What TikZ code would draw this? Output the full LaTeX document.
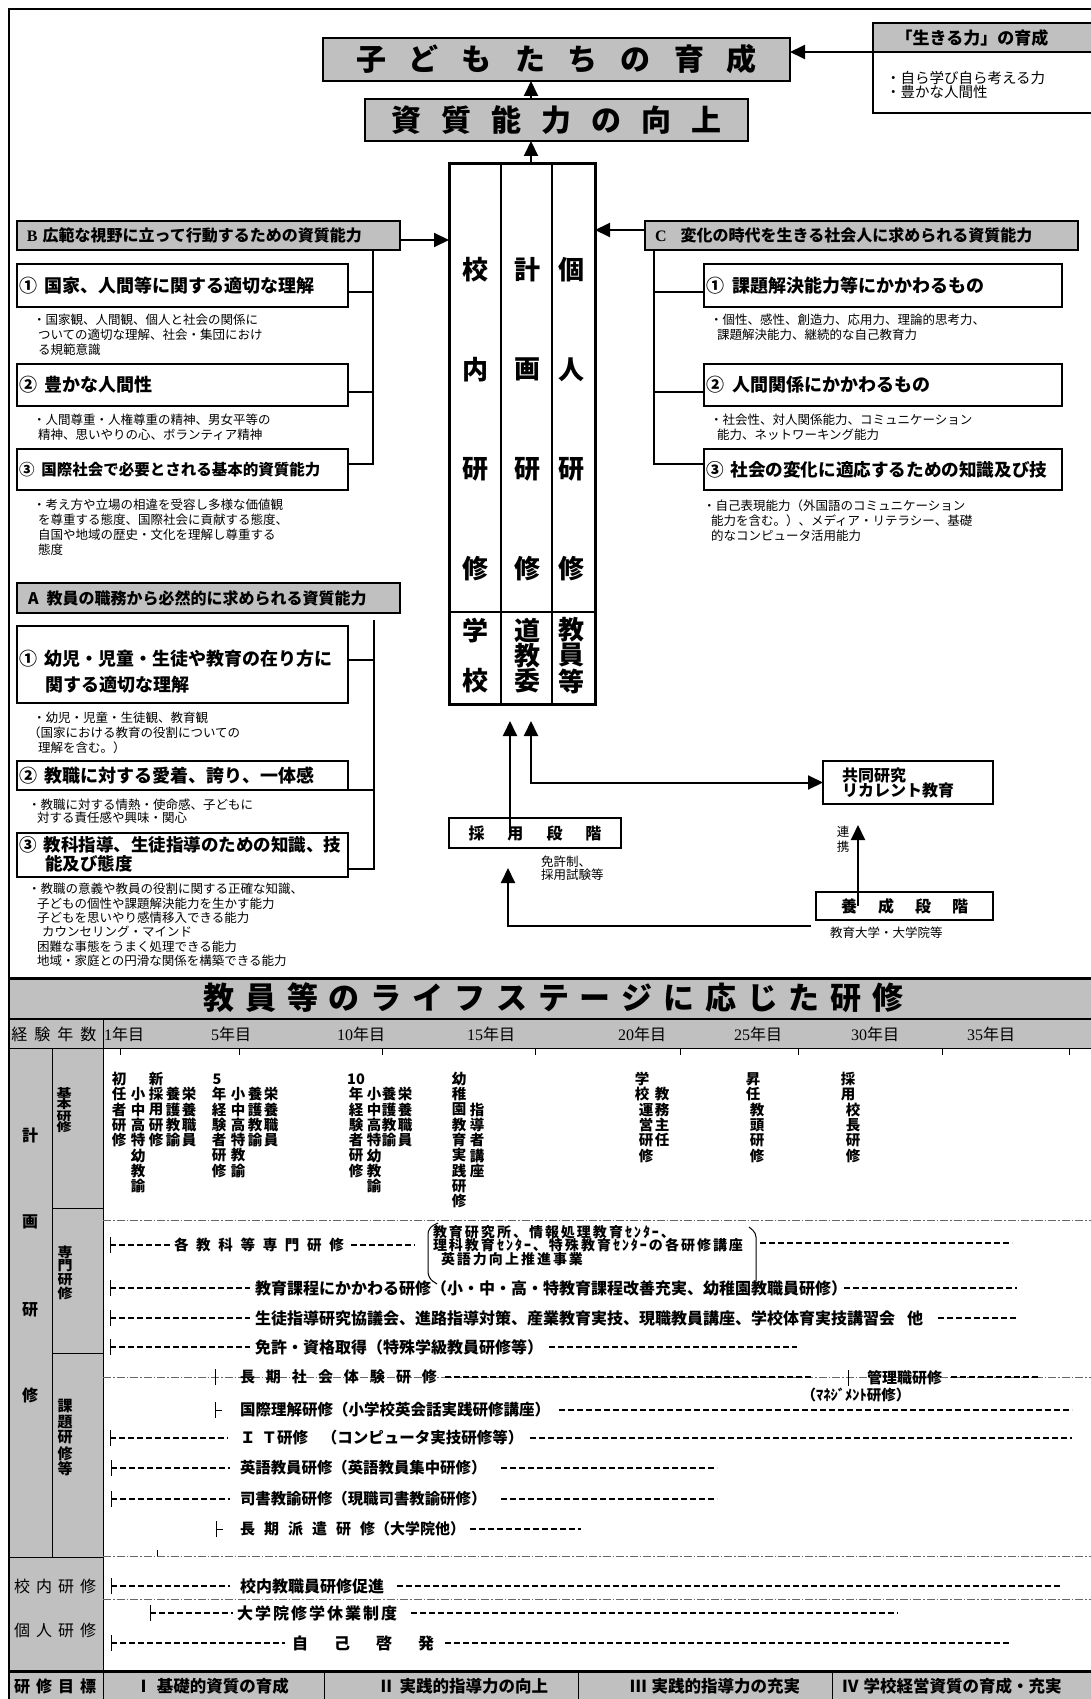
\documentclass[tikz,border=0pt]{standalone}
\usepackage{fontspec}
\setmainfont{Noto Sans CJK JP}
\newfontfamily\tms{Liberation Serif}
\usetikzlibrary{arrows.meta}
\definecolor{hg}{RGB}{192,192,192}
\newcommand\fsz[1]{\fontsize{#1}{#1}\selectfont}
\newcommand\fsb[2]{\fontsize{#1}{#2}\selectfont\lineskiplimit=-\maxdimen\relax}
\newcommand\vwrap[1]{#1}
\makeatletter
\newcommand\spread[2]{\let\sp@sep\relax\@tfor\sp@c:=#2\do{\sp@sep\sp@c\def\sp@sep{\kern#1\relax}}}
\newcounter{vcn}
\newcommand\vstack[5][vt]{\def\vc@y{#3}\@tfor\vc@c:=#5\do{\stepcounter{vcn}\node[#1] (vc\arabic{vcn}) at (#2,\vc@y) {\vwrap{\vc@c}};\pgfmathsetmacro\vc@y{\vc@y+#4}}}
\makeatother
\newcommand\tickv[2]{\draw[tk] (#1,#2-8) -- (#1,#2+8);}
\begin{document}
\begin{tikzpicture}[x=1pt,y=-1pt,
  hdr/.style={draw,line width=1.8pt,fill=hg,inner sep=0,outer sep=0},
  wbox/.style={draw,line width=2pt,fill=white,inner sep=0,outer sep=0},
  arr/.style={line width=2pt,-{Triangle[length=15pt,width=14pt]}},
  arrb/.style={line width=2pt,{Triangle[length=15pt,width=14pt]}-{Triangle[length=15pt,width=14pt]}},
  brk/.style={line width=2pt},
  dsh/.style={line width=1.1pt,dash pattern=on 6pt off 3pt},
  dd/.style={line width=0.7pt,black!60,dash pattern=on 8pt off 2pt on 1.5pt off 2pt},
  tk/.style={line width=1pt},
  lbl/.style={inner sep=0,outer sep=0},
  lw/.style={lbl,anchor=west},
  desc/.style={lbl,anchor=north west,align=left,font=\fsb{12.5}{15}},
  vt/.style={lbl,font=\fsz{14.5}\bfseries},
  ct/.style={lbl,font=\fsz{26}\bfseries},
  lt/.style={lbl,font=\fsz{15}\bfseries},
  ttx/.style={lw,font=\fsz{16}\bfseries},
  btx/.style={lw,font=\fsz{18}\bfseries},
]
\useasboundingbox (0,0) rectangle (1091,1699);
\clip (0,0) rectangle (1091,1699);

% ---------- table backgrounds ----------
\fill[hg] (9,978) rectangle (1100,1048);
\fill[hg] (9,1048) rectangle (103,1671);
\fill[hg] (9,1671) rectangle (1100,1710);

% ---------- outer frame ----------
\draw[line width=2.5pt] (9,1710) -- (9,9) -- (1100,9);

% ---------- top goal boxes ----------
\node[hdr,minimum width=467pt,minimum height=43pt] (kodomo) at (556.5,59.5) {\fsz{30}\bfseries\spread{23pt}{子どもたちの育成}};
\node[hdr,minimum width=383pt,minimum height=42pt] (shishitsu) at (556.5,120) {\fsz{30}\bfseries\spread{20pt}{資質能力の向上}};

\node[wbox,anchor=north west,minimum width=240pt,minimum height=90pt] (ikiru) at (873,23) {};
\node[hdr,anchor=north west,minimum width=240pt,minimum height=29pt] (ikiruh) at (873,23) {};
\node[lbl,font=\fsz{17}\bfseries] (ikirut) at (972,38) {「生きる力」の育成};
\node[lbl,anchor=north west,align=left,font=\fsb{14.5}{14}] (ikirui) at (886,71.5) {・自ら学び自ら考える力\\・豊かな人間性};

\coordinate (ya) at (0,52);
\draw[arr] (ikiru.west |- ya) -- (kodomo.east |- ya);

% ---------- central column ----------
\node[draw,line width=3pt,fill=white,minimum width=146pt,minimum height=540pt,inner sep=0,outer sep=0] (col) at (522,434) {};
\coordinate (c1) at (501,0);
\coordinate (c2) at (552,0);
\coordinate (c3) at (0,612);
\draw[line width=1.5pt] (col.north -| c1) -- (col.south -| c1);
\draw[line width=1.5pt] (col.north -| c2) -- (col.south -| c2);
\draw[line width=1.5pt] (col.west |- c3) -- (col.east |- c3);
\vstack[ct]{475}{270}{99.6}{校内研修}
\vstack[ct]{527}{270}{99.6}{計画研修}
\vstack[ct]{571}{270}{99.6}{個人研修}
\vstack[ct]{475}{631}{50}{学校}
\vstack[ct]{527}{630}{25.5}{道教委}
\vstack[ct]{571}{630}{25.5}{教員等}

\coordinate (cx) at (531,0);
\draw[arr] (shishitsu.north -| cx) -- (kodomo.south -| cx);
\draw[arr] (col.north -| cx) -- (shishitsu.south -| cx);

% ---------- B group ----------
\node[hdr,minimum width=383pt,minimum height=29pt] (Bh) at (208.5,235.5) {};
\node[lw,font=\fsz{16}\bfseries] (Bht) at (27,235.5) {{\tms B}\hspace{5pt}広範な視野に立って行動するための資質能力};
\coordinate (yb) at (0,240);
\draw[arr] (Bh.east |- yb) -- (col.west |- yb);

\node[wbox,minimum width=331pt,minimum height=43pt] (B1) at (182.5,285.5) {};
\node[btx] (B1t) at (19,285.5) {①\hspace{8pt}国家、人間等に関する適切な理解};
\node[desc] (B1d) at (33,314.4) {・国家観、人間観、個人と社会の関係に\\\hspace{5pt}ついての適切な理解、社会・集団におけ\\\hspace{5pt}る規範意識};
\node[wbox,minimum width=331pt,minimum height=42pt] (B2) at (182.5,385) {};
\node[btx] (B2t) at (19,385) {②\hspace{8pt}豊かな人間性};
\node[desc] (B2d) at (33,414.4) {・人間尊重・人権尊重の精神、男女平等の\\\hspace{5pt}精神、思いやりの心、ボランティア精神};
\node[wbox,minimum width=331pt,minimum height=41pt] (B3) at (182.5,469.5) {};
\node[lw,font=\fsz{15.5}\bfseries] (B3t) at (19,469.5) {③\hspace{7pt}国際社会で必要とされる基本的資質能力};
\node[desc] (B3d) at (33,499.4) {・考え方や立場の相違を受容し多様な価値観\\\hspace{5pt}を尊重する態度、国際社会に貢献する態度、\\\hspace{5pt}自国や地域の歴史・文化を理解し尊重する\\\hspace{5pt}態度};
\coordinate (bkB) at (373,0);
\draw[brk] (Bh.south -| bkB) -- ([yshift=5.5pt]B3.east -| bkB) -- ([yshift=5.5pt]B3.east);
\draw[brk] ([yshift=-6.5pt]B1.east) -- ([yshift=-6.5pt]B1.east -| bkB);
\draw[brk] ([yshift=-7pt]B2.east) -- ([yshift=-7pt]B2.east -| bkB);

% ---------- C group ----------
\node[hdr,minimum width=433pt,minimum height=29pt] (Ch) at (861.5,235.5) {};
\node[lw,font=\fsz{16}\bfseries] (Cht) at (655,235.5) {{\tms C}\hspace{14pt}変化の時代を生きる社会人に求められる資質能力};
\coordinate (yc) at (0,230);
\draw[arr] (Ch.west |- yc) -- (col.east |- yc);

\node[wbox,minimum width=358pt,minimum height=43pt] (C1) at (883,285.5) {};
\node[btx] (C1t) at (706,285.5) {①\hspace{8pt}課題解決能力等にかかわるもの};
\node[desc] (C1d) at (710,314.4) {・個性、感性、創造力、応用力、理論的思考力、\\\hspace{7pt}課題解決能力、継続的な自己教育力};
\node[wbox,minimum width=358pt,minimum height=42pt] (C2) at (883,385) {};
\node[btx] (C2t) at (706,385) {②\hspace{8pt}人間関係にかかわるもの};
\node[desc] (C2d) at (710,414.4) {・社会性、対人関係能力、コミュニケーション\\\hspace{7pt}能力、ネットワーキング能力};
\node[wbox,minimum width=358pt,minimum height=41pt] (C3) at (883,469.5) {};
\node[lw,font=\fsz{17.6}\bfseries] (C3t) at (706,469.5) {③\hspace{7pt}社会の変化に適応するための知識及び技};
\node[desc] (C3d) at (703,499.4) {・自己表現能力（外国語のコミュニケーション\\\hspace{8pt}能力を含む。）、メディア・リテラシー、基礎\\\hspace{8pt}的なコンピュータ活用能力};
\coordinate (bkC) at (654,0);
\draw[brk] (Ch.south -| bkC) -- ([yshift=5.5pt]C3.west -| bkC) -- ([yshift=5.5pt]C3.west);
\draw[brk] ([yshift=-6.5pt]C1.west) -- ([yshift=-6.5pt]C1.west -| bkC);
\draw[brk] ([yshift=-7pt]C2.west) -- ([yshift=-7pt]C2.west -| bkC);

% ---------- A group ----------
\node[hdr,minimum width=383pt,minimum height=30pt] (Ah) at (208.5,598) {};
\node[lw,font=\fsz{16}\bfseries] (Aht) at (28,598) {A\hspace{8pt}教員の職務から必然的に求められる資質能力};
\node[wbox,minimum width=331pt,minimum height=77pt] (A1) at (182.5,664.5) {};
\node[btx] (A1t) at (19,659) {①\hspace{8pt}幼児・児童・生徒や教育の在り方に};
\node[btx] (A1t2) at (45,685) {関する適切な理解};
\node[desc] (A1d) at (28,712.4) {\hspace{5pt}・幼児・児童・生徒観、教育観\\（国家における教育の役割についての\\\hspace{10pt}理解を含む。）};
\node[wbox,minimum width=331pt,minimum height=29pt] (A2) at (182.5,775.5) {};
\node[btx] (A2t) at (19,775.5) {②\hspace{8pt}教職に対する愛着、誇り、一体感};
\node[desc,font=\fsb{12.5}{12.5}] (A2d) at (28,799.4) {・教職に対する情熱・使命感、子どもに\\\hspace{9pt}対する責任感や興味・関心};
\node[wbox,minimum width=331pt,minimum height=44pt] (A3) at (182.5,855) {};
\node[lw,font=\fsz{17.5}\bfseries] (A3t) at (19,845) {③\hspace{7pt}教科指導、生徒指導のための知識、技};
\node[lw,font=\fsz{17.5}\bfseries] (A3t2) at (45,864) {能及び態度};
\node[desc,font=\fsb{12.5}{14.3}] (A3d) at (28,883.4) {・教職の意義や教員の役割に関する正確な知識、\\\hspace{9pt}子どもの個性や課題解決能力を生かす能力\\\hspace{9pt}子どもを思いやり感情移入できる能力\\\hspace{14pt}カウンセリング・マインド\\\hspace{9pt}困難な事態をうまく処理できる能力\\\hspace{9pt}地域・家庭との円滑な関係を構築できる能力};
\coordinate (bkA) at (374,620);
\draw[brk] (bkA) -- ([yshift=-14pt]A3.east -| bkA) -- ([yshift=-14pt]A3.east);
\draw[brk] ([yshift=4.5pt]A1.east) -- ([yshift=4.5pt]A1.east -| bkA);
\draw[brk] (A2.south east) -- (A2.south east -| bkA);

% ---------- stages ----------
\node[wbox,minimum width=172pt,minimum height=30pt] (saiyou) at (535,833) {\fsz{16}\bfseries\spread{23pt}{採用段階}};
\node[lbl,anchor=north west,align=left,font=\fsb{12.5}{13}] (menkyo) at (541,856.4) {免許制、\\採用試験等};
\node[wbox,minimum width=170pt,minimum height=43pt] (kyodo) at (908,782.5) {};
\node[lw,align=left,font=\fsb{16}{15}\bfseries] (kyodot) at (842,782.5) {共同研究\\リカレント教育};
\node[wbox,minimum width=177pt,minimum height=28pt] (yousei) at (904.5,906) {\fsz{16}\bfseries\spread{21pt}{養成段階}};
\node[lw,font=\fsz{12.5}] (kyoiku) at (830,933) {教育大学・大学院等};
\node[lbl,align=center,font=\fsb{12.5}{15}] (renkei) at (843,839.5) {連\\携};

\coordinate (t1) at (510,721);
\coordinate (t2) at (531,721);
\coordinate (t3) at (508,868);
\coordinate (t4) at (858,825);
\coordinate (s3) at (811,926);
\draw[arr] (saiyou.center -| t1) -- (t1);
\draw[arrb] (t2) |- (kyodo.west);
\draw[arr] (s3) -| (t3);
\draw[arr] (yousei.center -| t4) -- (t4);

% ---------- table frame lines ----------
\draw[line width=3pt] (9,978) -- (1100,978);
\draw[line width=2pt] (9,1019) -- (1100,1019);
\draw[line width=1pt] (9,1048) -- (1100,1048);
\draw[line width=1pt] (103,1019) -- (103,1710);
\draw[line width=1pt] (52,1048) -- (52,1557);
\draw[line width=1pt] (52,1208) -- (103,1208);
\draw[line width=1pt] (52,1353) -- (103,1353);
\draw[line width=1pt] (9,1557) -- (103,1557);
\draw[line width=3pt] (9,1671) -- (1100,1671);
\draw[line width=1pt] (324,1671) -- (324,1710);
\draw[line width=1pt] (578,1671) -- (578,1710);
\draw[line width=1pt] (832,1671) -- (832,1710);

\node[lbl] (title) at (553.5,998) {\fsz{31}\bfseries\spread{10.8pt}{教員等のライフステージに応じた研修}};

% year row
\node[lbl,font=\fsz{16}] (keiken) at (54,1034) {\spread{7pt}{経験年数}};
\node[lw,font=\fsz{16}] (yr1) at (104,1034) {{\tms 1}年目};
\node[lbl,font=\fsz{16}] (yr5) at (231,1034) {{\tms 5}年目};
\node[lbl,font=\fsz{16}] (yr10) at (361,1034) {{\tms 10}年目};
\node[lbl,font=\fsz{16}] (yr15) at (491,1034) {{\tms 15}年目};
\node[lbl,font=\fsz{16}] (yr20) at (642,1034) {{\tms 20}年目};
\node[lbl,font=\fsz{16}] (yr25) at (758,1034) {{\tms 25}年目};
\node[lbl,font=\fsz{16}] (yr30) at (875,1034) {{\tms 30}年目};
\node[lbl,font=\fsz{16}] (yr35) at (991,1034) {{\tms 35}年目};
\foreach \x in {120,239,382,535,680,798,942,1069} \draw[line width=0.8pt] (\x,1048) -- (\x,1055);

% left labels
\node[lbl,font=\fsz{16}\bfseries] (k1) at (30,1135) {計};
\node[lbl,font=\fsz{16}\bfseries] (k2) at (30,1222) {画};
\node[lbl,font=\fsz{16}\bfseries] (k3) at (30,1310) {研};
\node[lbl,font=\fsz{16}\bfseries] (k4) at (30,1395) {修};
\renewcommand\vwrap[1]{\scalebox{1}[0.78]{#1}}
\vstack[lt]{64}{1093}{11.5}{基本研修}
\renewcommand\vwrap[1]{\scalebox{1}[0.9]{#1}}
\vstack[lt]{65}{1252}{13.8}{専門研修}
\renewcommand\vwrap[1]{#1}
\vstack[lt]{65}{1406}{15.8}{課題研修等}
\node[lbl,font=\fsz{16}] (kn) at (55,1586) {\spread{6pt}{校内研修}};
\node[lbl,font=\fsz{16}] (kj) at (55,1630) {\spread{6pt}{個人研修}};
\node[lbl,font=\fsz{16}\bfseries] (mk) at (55,1686) {\spread{6pt}{研修目標}};

% base training columns
\vstack{119}{1079}{15.3}{初任者研修}
\vstack{138}{1094.3}{15.3}{小中高特幼教諭}
\vstack{156}{1079}{15.3}{新採用研修}
\vstack{173}{1094.3}{15.3}{養護教諭}
\vstack{189}{1094.3}{15.3}{栄養職員}
\node[vt] (g5n) at (217,1079) {5};
\vstack{219}{1094.3}{15.3}{年経験者研修}
\vstack{238}{1094.3}{15.3}{小中高特教諭}
\vstack{255}{1094.3}{15.3}{養護教諭}
\vstack{271}{1094.3}{15.3}{栄養職員}
\node[vt] (g10n) at (356,1079) {10};
\vstack{356}{1094.3}{15.3}{年経験者研修}
\vstack{374}{1094.3}{15.3}{小中高特幼教諭}
\vstack{389}{1094.3}{15.3}{養護教諭}
\vstack{405}{1094.3}{15.3}{栄養職員}
\vstack{459}{1079}{15.3}{幼稚園教育実践研修}
\vstack{477}{1109.6}{15.3}{指導者講座}
\vstack{642}{1079}{15.3}{学校}
\vstack{646}{1109.6}{15.3}{運営研修}
\vstack{662}{1094.3}{15.3}{教務主任}
\vstack{753}{1079}{15.3}{昇任}
\vstack{757}{1109.6}{15.3}{教頭研修}
\vstack{848}{1079}{15.3}{採用}
\vstack{853}{1109.6}{15.3}{校長研修}

% dash-dot separators
\draw[dd] (103,1220) -- (1100,1220);
\draw[dd] (103,1377) -- (1100,1377);
\draw[dd] (103,1556) -- (1100,1556);
\draw[dd] (103,1599) -- (1100,1599);
\draw[tk] (157,1550) -- (157,1556);

% 専門研修 lines
\tickv{110}{1245}
\draw[dsh] (110,1245) -- (170,1245);
\node[lw,font=\fsz{14.5}\bfseries] (sm1) at (174,1245) {\spread{7.7pt}{各教科等専門研修}};
\draw[dsh] (351,1245) -- (415,1245);
\node[lw,font=\fsz{14}\bfseries] (smb1) at (433,1232) {\spread{2pt}{教育研究所、情報処理教育ｾﾝﾀｰ、}};
\node[lw,font=\fsz{14}\bfseries] (smb2) at (433,1245.5) {\spread{2pt}{理科教育ｾﾝﾀｰ、特殊教育ｾﾝﾀｰの各研修講座}};
\node[lw,font=\fsz{14}\bfseries] (smb3) at (441,1259) {\spread{2pt}{英語力向上推進事業}};
\draw[line width=1pt,rounded corners=6pt] (438,1223) -- (428,1228) -- (428,1278) -- (437,1284);
\draw[line width=1pt,rounded corners=4pt] (749,1227) -- (756,1233) -- (756,1281);
\draw[dsh] (760,1243) -- (1012,1243);

\tickv{110}{1288}
\draw[dsh] (110,1288) -- (250,1288);
\node[ttx] (sm2) at (255,1288) {教育課程にかかわる研修（小・中・高・特教育課程改善充実、幼稚園教職員研修）};
\draw[dsh] (844,1288) -- (1017,1288);

\tickv{110}{1318}
\draw[dsh] (110,1318) -- (250,1318);
\node[ttx] (sm3) at (255,1318) {生徒指導研究協議会、進路指導対策、産業教育実技、現職教員講座、学校体育実技講習会\hspace{12pt}他};
\draw[dsh] (938,1318) -- (1017,1318);

\tickv{110}{1347}
\draw[dsh] (110,1347) -- (250,1347);
\node[ttx] (sm4) at (255,1347) {免許・資格取得（特殊学級教員研修等）};
\draw[dsh] (549,1347) -- (797,1347);

% 課題研修 lines
\tickv{215}{1377}
\node[lw,font=\fsz{15}\bfseries] (kd1) at (240,1377) {\spread{11pt}{長期社会体験研修}};
\draw[dsh] (445,1377) -- (813,1377);
\tickv{848}{1378}
\node[lw,font=\fsz{15}\bfseries] (kanri) at (867,1378) {管理職研修};
\draw[dsh] (951,1377) -- (1039,1377);
\node[lbl,font=\fsz{14.5}\bfseries] (mane) at (856,1395) {（ﾏﾈｼﾞﾒﾝﾄ研修）};

\tickv{215}{1410}
\draw[tk] (215,1410) -- (222,1410);
\node[lw,font=\fsz{15.5}\bfseries] (kd2) at (240,1410) {国際理解研修（小学校英会話実践研修講座）};
\draw[dsh] (559,1410) -- (1072,1410);

\tickv{110}{1438}
\draw[dsh] (110,1438) -- (228,1438);
\node[lw,font=\fsz{15.5}\bfseries] (kd3) at (240,1438) {Ｉ\hspace{6pt}Ｔ研修\hspace{14pt}（コンピュータ実技研修等）};
\draw[dsh] (530,1438) -- (1072,1438);

\tickv{111}{1468}
\draw[dsh] (111,1468) -- (230,1468);
\node[lw,font=\fsz{15.4}\bfseries] (kd4) at (240,1468) {英語教員研修（英語教員集中研修）};
\draw[dsh] (501,1468) -- (717,1468);

\tickv{111}{1499}
\draw[dsh] (111,1499) -- (230,1499);
\node[lw,font=\fsz{15.4}\bfseries] (kd5) at (240,1499) {司書教諭研修（現職司書教諭研修）};
\draw[dsh] (501,1499) -- (717,1499);

\tickv{216}{1529}
\draw[tk] (216,1529) -- (223,1529);
\node[lw,font=\fsz{15}\bfseries] (kd6) at (240,1529) {\spread{9pt}{長期派遣研修}（大学院他）};
\draw[dsh] (470,1529) -- (581,1529);

% 校内・個人研修
\tickv{111}{1586}
\draw[dsh] (111,1586) -- (230,1586);
\node[ttx] (kn1) at (240,1586) {校内教職員研修促進};
\draw[dsh] (397,1586) -- (1061,1586);

\tickv{150}{1613}
\draw[dsh] (150,1613) -- (233,1613);
\node[ttx] (kj1) at (237,1613) {\spread{2pt}{大学院修学休業制度}};
\draw[dsh] (411,1613) -- (898,1613);

\tickv{111}{1643}
\draw[dsh] (111,1643) -- (285,1643);
\node[ttx] (kj2) at (292,1643) {\spread{26pt}{自己啓発}};
\draw[dsh] (445,1643) -- (1009,1643);

% goals row
\node[lbl,font=\fsz{16.5}\bfseries] (g1) at (212,1686) {Ⅰ\hspace{5pt}基礎的資質の育成};
\node[lbl,font=\fsz{16.5}\bfseries] (g2) at (463,1686) {Ⅱ\hspace{5pt}実践的指導力の向上};
\node[lbl,font=\fsz{16.5}\bfseries] (g3) at (715,1686) {Ⅲ\hspace{5pt}実践的指導力の充実};
\node[lw,font=\fsz{16.5}\bfseries] (g4) at (842,1686) {Ⅳ\hspace{5pt}学校経営資質の育成・充実};
\end{tikzpicture}
\end{document}
